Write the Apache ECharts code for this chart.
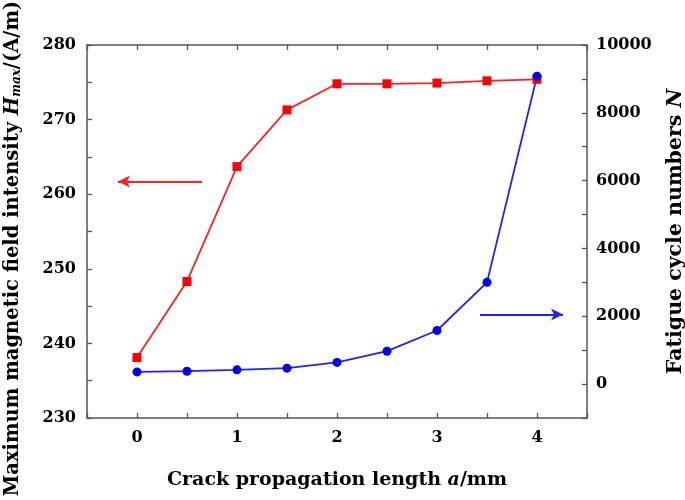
<!DOCTYPE html>
<html>
<head>
<meta charset="utf-8">
<script src="https://cdn.jsdelivr.net/npm/echarts@6/dist/echarts.min.js"></script>
<style>
  html, body { margin: 0; padding: 0; background: #fff; }
  #chart { width: 685px; height: 500px; }
</style>
</head>
<body>
<div id="chart"></div>
<script>
// crack length a (mm)
var crackLength = [0, 0.5, 1, 1.5, 2, 2.5, 3, 3.5, 4];
// Hmax (A/m), left axis
var hmax = [238.1, 248.3, 263.7, 271.3, 274.8, 274.8, 274.9, 275.2, 275.4];
// fatigue cycles N, right axis
var cycles = [360, 380, 420, 470, 640, 970, 1580, 3000, 9080];

// annotation arrows (data coords)
var redArrow = [[0.65, 261.7], [-0.19, 261.7]];
var blueArrow = [[3.43, 2050], [4.26, 2050]];

var font = 'DejaVu Serif';
var frameColor = '#555';

function pairs(xs, ys) {
    return xs.map(function (x, i) { return [x, ys[i]]; });
}

var chart = echarts.init(document.getElementById('chart'));

var tickStyle = { show: true, inside: true, length: 5, lineStyle: { color: frameColor, width: 1.3 } };
var lineStyle = { show: true, onZero: false, lineStyle: { color: frameColor, width: 1.5 } };

var option = {
    backgroundColor: '#fff',
    animation: false,
    grid: { left: 87, right: 98, top: 45, bottom: 82, containLabel: false, outerBoundsMode: 'none' },
    xAxis: [{
        type: 'value',
        min: -0.5,
        max: 4.5,
        interval: 0.5,
        axisLine: lineStyle,
        axisTick: tickStyle,
        splitLine: { show: false },
        axisLabel: {
            margin: 12,
            color: '#000',
            fontFamily: font,
            fontWeight: 'bold',
            fontSize: 16,
            formatter: function (v) { return Number.isInteger(v) ? String(v) : ''; }
        },
        name: '{b|Crack propagation length }{i|a}{b|/mm}',
        nameLocation: 'middle',
        nameGap: 53,
        nameTextStyle: {
            rich: {
                b: { fontFamily: font, fontWeight: 'bold', fontSize: 19, color: '#000' },
                i: { fontFamily: font, fontWeight: 'bold', fontStyle: 'italic', fontSize: 19, color: '#000' }
            }
        }
    }, {
        type: 'value',
        position: 'top',
        min: -0.5,
        max: 4.5,
        interval: 0.5,
        axisLine: lineStyle,
        axisTick: tickStyle,
        axisLabel: { show: false },
        splitLine: { show: false }
    }],
    yAxis: [{
        type: 'value',
        position: 'left',
        min: 230,
        max: 280,
        interval: 5,
        axisLine: lineStyle,
        axisTick: tickStyle,
        splitLine: { show: false },
        axisLabel: {
            margin: 11,
            color: '#000',
            fontFamily: font,
            fontWeight: 'bold',
            fontSize: 16,
            formatter: function (v) { return v % 10 === 0 ? String(v) : ''; }
        },
        name: '{b|Maximum magnetic field intensity }{i|H}{s|max}{b|/(A/m)}',
        nameLocation: 'middle',
        nameRotate: 90,
        nameGap: 64,
        nameTextStyle: {
            padding: [0, 34, 0, 0],
            rich: {
                b: { fontFamily: font, fontWeight: 'bold', fontSize: 19.5, color: '#000' },
                i: { fontFamily: font, fontWeight: 'bold', fontStyle: 'italic', fontSize: 19.5, color: '#000' },
                s: { fontFamily: font, fontWeight: 'bold', fontStyle: 'italic', fontSize: 12, color: '#000', verticalAlign: 'bottom', padding: [9, 0, 0, 0] }
            }
        }
    }, {
        type: 'value',
        position: 'right',
        min: -1000,
        max: 10000,
        interval: 1000,
        axisLine: lineStyle,
        axisTick: tickStyle,
        splitLine: { show: false },
        axisLabel: {
            margin: 9,
            color: '#000',
            fontFamily: font,
            fontWeight: 'bold',
            fontSize: 16,
            formatter: function (v) { return (v >= 0 && v % 2000 === 0) ? String(v) : ''; }
        },
        name: '{b|Fatigue cycle numbers }{i|N}',
        nameLocation: 'middle',
        nameRotate: 90,
        nameGap: 78,
        nameTextStyle: {
            rich: {
                b: { fontFamily: font, fontWeight: 'bold', fontSize: 20.5, color: '#000' },
                i: { fontFamily: font, fontWeight: 'bold', fontStyle: 'italic', fontSize: 20.5, color: '#000' }
            }
        }
    }],
    series: [{
        name: 'Hmax',
        type: 'line',
        xAxisIndex: 0,
        yAxisIndex: 0,
        data: pairs(crackLength, hmax),
        symbol: 'rect',
        symbolSize: 9,
        itemStyle: { color: '#ff0000' },
        lineStyle: { color: '#ff2020', width: 1.8 },
        markLine: {
            silent: true,
            symbol: ['none', 'arrow'],
            symbolSize: [9, 12],
            label: { show: false },
            lineStyle: { color: '#ff2020', width: 1.8, type: 'solid' },
            data: [[{ coord: redArrow[0] }, { coord: redArrow[1] }]]
        }
    }, {
        name: 'N',
        type: 'line',
        xAxisIndex: 0,
        yAxisIndex: 1,
        data: pairs(crackLength, cycles),
        symbol: 'circle',
        symbolSize: 9,
        itemStyle: { color: '#0000ff' },
        lineStyle: { color: '#2020ff', width: 1.8 },
        markLine: {
            silent: true,
            symbol: ['none', 'arrow'],
            symbolSize: [9, 12],
            label: { show: false },
            lineStyle: { color: '#2020ff', width: 1.8, type: 'solid' },
            data: [[{ coord: blueArrow[0] }, { coord: blueArrow[1] }]]
        }
    }]
};

chart.setOption(option);
</script>
</body>
</html>
